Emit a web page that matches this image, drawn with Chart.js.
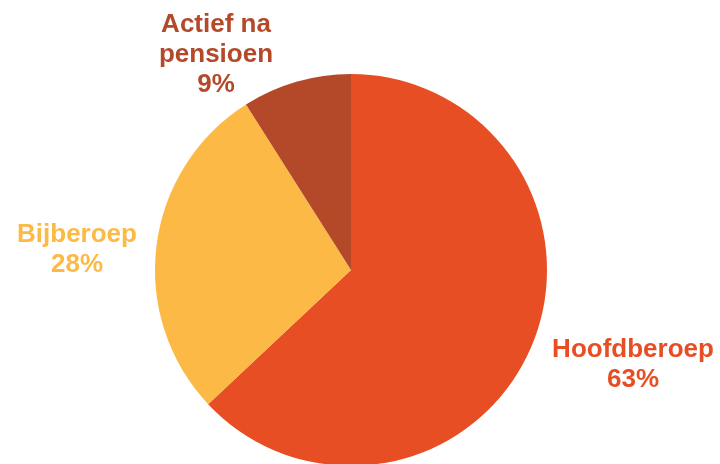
<!DOCTYPE html>
<html><head><meta charset="utf-8">
<script src="https://cdn.jsdelivr.net/npm/chart.js@4/dist/chart.umd.min.js"></script>
<style>html,body{margin:0;padding:0;background:#fff;overflow:hidden;width:720px;height:464px}#w{position:relative;width:720px;height:472px}</style>
</head><body><div id="w"><canvas id="c" width="720" height="472"></canvas></div>
<script>
const categories = ["Hoofdberoep", "Bijberoep", "Actief na pensioen"];
const labelLines = [["Hoofdberoep"], ["Bijberoep"], ["Actief na", "pensioen"]];
const values = [63, 28, 9];
const colors = ["#E84E23", "#FDB946", "#B4492A"];
// label anchor offsets relative to pie centre (layout only): centre x, mean baseline y
const labelOffsets = [[282, 102], [-274, -13], [-135, -208]];

const labelPlugin = {
  id: 'pieLabels',
  afterDatasetsDraw(chart) {
    const ctx = chart.ctx;
    const arc = chart.getDatasetMeta(0).data[0];
    const cx = arc.x, cy = arc.y;
    ctx.save();
    ctx.font = 'bold 26px "Liberation Sans", Arial, sans-serif';
    ctx.textAlign = 'center';
    ctx.textBaseline = 'alphabetic';
    const lh = 30;
    values.forEach((v, i) => {
      const lines = labelLines[i].concat([v + '%']);
      ctx.fillStyle = colors[i];
      const x = cx + labelOffsets[i][0];
      const y0 = cy + labelOffsets[i][1] - (lines.length - 1) * lh / 2;
      lines.forEach((t, k) => ctx.fillText(t, x, y0 + k * lh));
    });
    ctx.restore();
  }
};

new Chart(document.getElementById('c'), {
  type: 'pie',
  data: { labels: categories, datasets: [{ data: values, backgroundColor: colors, borderWidth: 0 }] },
  options: {
    responsive: false,
    animation: false,
    radius: 196,
    layout: { padding: { top: 68, bottom: 0, left: 0, right: 18 } },
    plugins: { legend: { display: false }, tooltip: { enabled: false } }
  },
  plugins: [labelPlugin]
});
</script></body></html>
